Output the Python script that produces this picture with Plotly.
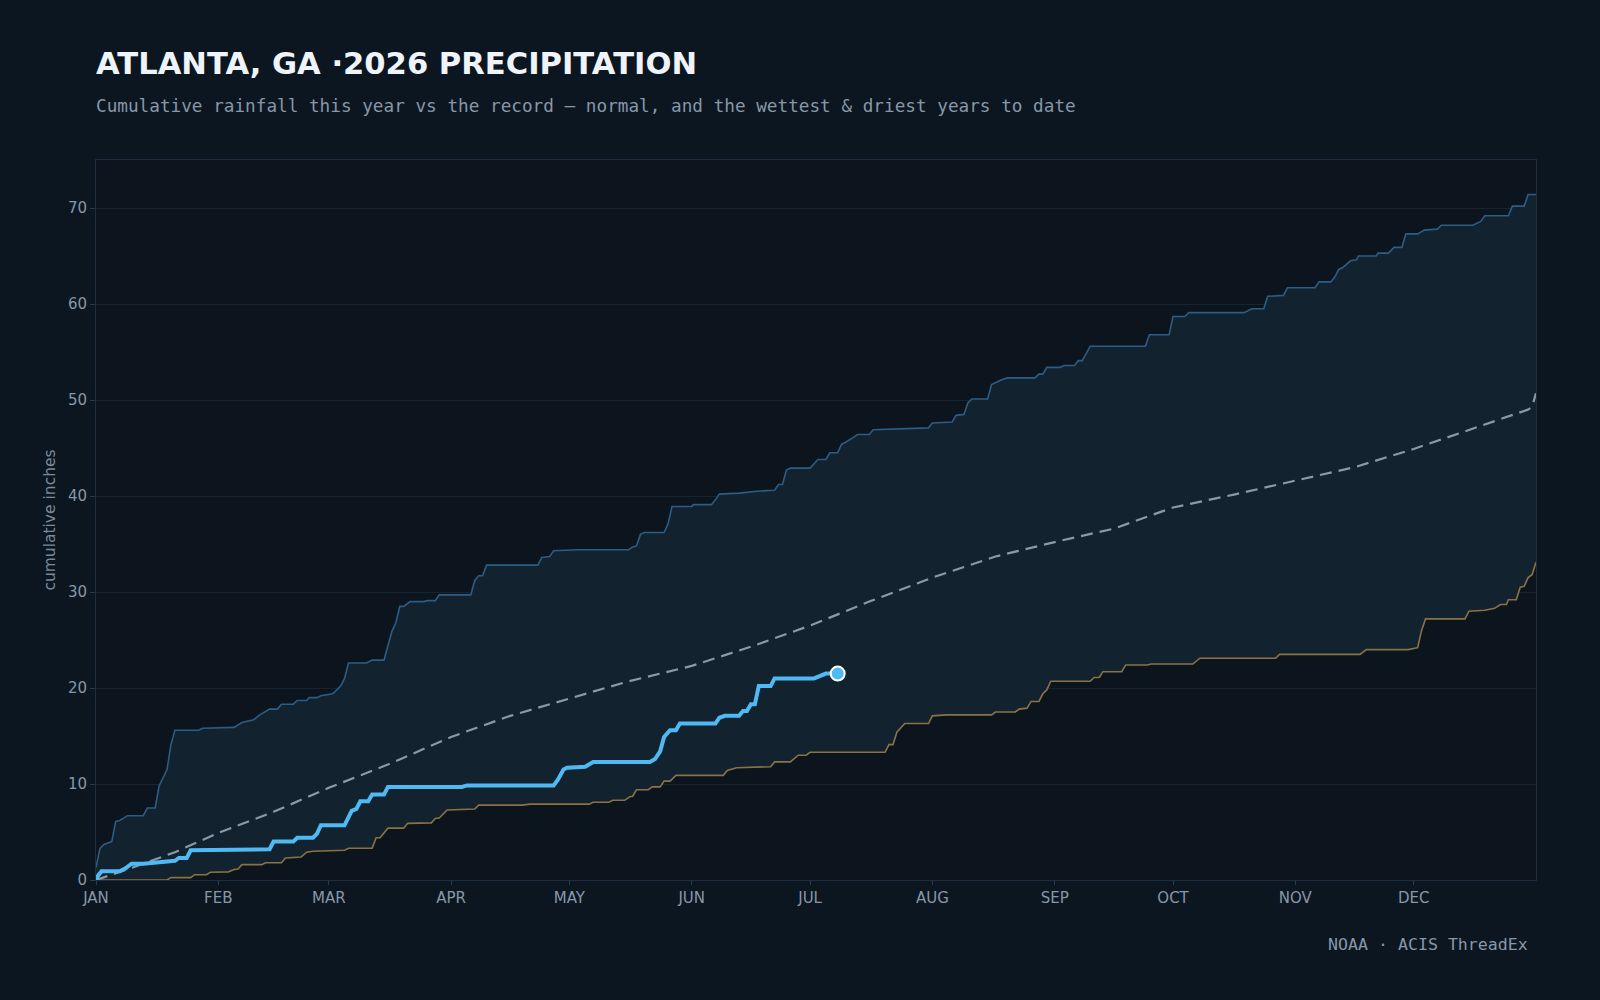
import plotly.graph_objects as go

# ---- data (day of year, cumulative inches) ----
month_ticks = [0, 31, 59, 90, 120, 151, 181, 212, 243, 273, 304, 334]
month_labels = ["JAN", "FEB", "MAR", "APR", "MAY", "JUN", "JUL", "AUG", "SEP", "OCT", "NOV", "DEC"]

wet_day = [0, 1, 2, 4, 5, 6, 8, 12, 13, 15, 16, 18, 19, 20, 26, 27, 35, 37, 40, 41.5, 44, 46, 47, 50, 51,
           53.4, 54, 56, 57, 60, 62, 63, 64, 68.6, 70, 73, 75, 76, 77, 78, 79.6, 83, 84, 86, 87, 95, 96, 97,
           98, 99, 112, 113, 115, 116, 122, 135, 136, 137, 138, 139, 144, 145, 146, 151, 151.4, 156, 157,
           158, 163, 167.5, 172, 173, 174, 175, 176, 181, 183, 185, 186, 188, 189, 190, 192, 193, 196, 197,
           211, 212, 217, 218, 220, 221, 222, 226, 227, 228, 229.6, 231, 238, 239, 240, 241, 244.4, 245.3,
           248, 249, 250, 252, 266, 267, 272, 273, 276, 277, 291, 293, 296, 297, 301, 302, 309, 310, 313,
           314, 315, 316, 318, 319.5, 320, 324.5, 325, 327.6, 329, 331, 332, 335, 336.7, 340, 341, 349,
           351, 352, 358, 359, 362, 363, 365]
wet_in = [1.3, 3.3, 3.7, 4.0, 6.1, 6.2, 6.7, 6.7, 7.5, 7.5, 9.8, 11.5, 14.1, 15.6, 15.6, 15.8, 15.9, 16.4,
          16.7, 17.2, 17.8, 17.8, 18.3, 18.3, 18.7, 18.7, 19.0, 19.0, 19.2, 19.4, 20.2, 21.0, 22.6, 22.6,
          22.9, 22.9, 25.9, 26.8, 28.5, 28.5, 29.0, 29.0, 29.1, 29.1, 29.7, 29.7, 31.2, 31.7, 31.7, 32.8,
          32.8, 33.6, 33.7, 34.3, 34.4, 34.4, 34.7, 34.8, 36.0, 36.2, 36.2, 37.1, 38.9, 38.9, 39.1, 39.1,
          39.6, 40.2, 40.3, 40.5, 40.6, 41.2, 41.2, 42.7, 42.9, 42.9, 43.8, 43.8, 44.5, 44.5, 45.4, 45.6,
          46.1, 46.4, 46.4, 46.9, 47.1, 47.6, 47.7, 48.4, 48.5, 49.7, 50.1, 50.1, 51.6, 51.8, 52.1, 52.3,
          52.3, 52.7, 52.7, 53.4, 53.4, 53.6, 53.6, 54.1, 54.1, 55.6, 55.6, 56.8, 56.8, 58.7, 58.7, 59.1,
          59.1, 59.5, 59.5, 60.8, 60.9, 61.7, 61.7, 62.3, 62.3, 62.8, 63.6, 63.8, 64.5, 64.6, 65.0, 65.0,
          65.3, 65.3, 65.9, 65.9, 67.3, 67.3, 67.7, 67.8, 68.2, 68.2, 68.6, 69.2, 69.2, 70.2, 70.2, 71.4,
          71.4]

dry_day = [0, 18, 19, 24, 25, 28, 29, 33.6, 35, 36, 37, 42, 43, 47, 48, 52, 53.4, 55, 63, 64, 70, 71, 72,
           74, 78, 79, 85, 86, 87, 89, 96, 97, 108, 110, 125, 126, 130, 131, 134, 135.4, 136, 137, 140, 141,
           143, 144, 145.5, 147, 159, 160, 162.4, 171, 172, 176, 178, 180, 181, 200, 201, 202, 203, 205, 211,
           212, 215.6, 227, 228, 233, 234, 236, 237, 239, 240, 241, 242, 252, 253, 254.3, 255.2, 260, 261,
           266.5, 267.4, 278, 279.8, 299, 300, 320.4, 322, 332.6, 335, 336, 337, 347, 348, 352, 354.5, 356,
           357.5, 358, 360, 361, 362, 363, 364, 365]
dry_in = [0.0, 0.0, 0.25, 0.25, 0.55, 0.55, 0.8, 0.85, 1.1, 1.15, 1.6, 1.6, 1.8, 1.8, 2.3, 2.4, 2.9, 3.0,
          3.1, 3.3, 3.3, 4.4, 4.4, 5.4, 5.4, 5.9, 5.95, 6.4, 6.45, 7.3, 7.4, 7.8, 7.8, 7.9, 7.9, 8.1, 8.1,
          8.3, 8.3, 8.7, 8.7, 9.4, 9.4, 9.7, 9.7, 10.3, 10.3, 10.9, 10.9, 11.4, 11.7, 11.8, 12.3, 12.3, 13.0,
          13.0, 13.3, 13.3, 14.1, 14.1, 15.4, 16.3, 16.3, 17.1, 17.2, 17.2, 17.5, 17.5, 17.8, 17.9, 18.6,
          18.6, 19.4, 19.8, 20.7, 20.7, 21.1, 21.1, 21.7, 21.7, 22.4, 22.4, 22.5, 22.5, 23.1, 23.1, 23.5,
          23.5, 24.0, 24.0, 24.2, 26.0, 27.2, 27.2, 28.0, 28.1, 28.3, 28.7, 28.7, 29.2, 29.2, 30.5, 30.6,
          31.5, 31.8, 33.1]

norm_day = [0, 10, 20, 31, 45, 59, 75, 90, 105, 120, 135, 151, 166, 181, 196, 212, 228, 243, 258, 273, 289,
            304, 319, 334, 349, 360, 363, 364, 365]
norm_in = [0.0, 1.4, 2.9, 4.9, 7.1, 9.6, 12.2, 14.9, 17.1, 18.9, 20.7, 22.3, 24.3, 26.5, 29.0, 31.5, 33.7,
           35.2, 36.6, 38.8, 40.2, 41.6, 43.0, 44.9, 47.0, 48.5, 49.0, 49.3, 50.7]

cur_day = [0, 0.6, 1.4, 6, 7.4, 9, 12, 15.4, 20, 21, 23, 24, 43.3, 44, 45, 50, 51, 55, 56, 57, 63, 64, 64.8,
           66, 67, 69, 70, 73, 74, 92.7, 94, 116, 117, 118.5, 119.4, 124, 125, 126, 140.4, 141.7, 143, 144,
           145.5, 147, 148, 157, 158, 159.4, 163, 164, 165, 166, 167, 168, 171, 172, 182, 183.5, 185, 188]
cur_in = [0.0, 0.5, 0.9, 0.9, 1.2, 1.7, 1.7, 1.8, 2.0, 2.3, 2.3, 3.1, 3.2, 3.2, 4.0, 4.0, 4.4, 4.4, 4.8, 5.7,
          5.7, 6.6, 7.2, 7.4, 8.2, 8.2, 8.9, 8.9, 9.7, 9.7, 9.85, 9.85, 10.4, 11.5, 11.7, 11.8, 12.0, 12.3,
          12.3, 12.6, 13.4, 14.9, 15.6, 15.6, 16.3, 16.3, 16.9, 17.1, 17.1, 17.6, 17.6, 18.3, 18.3, 20.2,
          20.2, 21.0, 21.0, 21.2, 21.5, 21.5]

# ---- styling ----
BG = "#0c1620"
PLOT_BG = "#0c151e"
BAND = "#12222f"
GRID = "#152431"
FRAME = "#1c2e3f"
TXT = "#8797a8"

fig = go.Figure()

fig.add_trace(go.Scatter(x=dry_day, y=dry_in, mode="lines", name="driest",
                         line=dict(color="#8a7245", width=1.6), hoverinfo="skip"))
fig.add_trace(go.Scatter(x=wet_day, y=wet_in, mode="lines", name="wettest",
                         line=dict(color="#2b5d86", width=1.6), fill="tonexty", fillcolor=BAND,
                         hoverinfo="skip"))
fig.add_trace(go.Scatter(x=norm_day, y=norm_in, mode="lines", name="normal",
                         line=dict(color="#8a99a8", width=2.2, dash="12px,7px"), hoverinfo="skip"))
fig.add_trace(go.Scatter(x=cur_day, y=cur_in, mode="lines", name="2026",
                         line=dict(color="#4fb9f3", width=4), hoverinfo="skip"))
fig.add_trace(go.Scatter(x=[cur_day[-1]], y=[cur_in[-1]], mode="markers", name="today",
                         marker=dict(color="#4fb9f3", size=14, line=dict(color="#ffffff", width=2)),
                         hoverinfo="skip"))

fig.update_layout(
    width=1600, height=1000,
    paper_bgcolor=BG, plot_bgcolor=PLOT_BG,
    margin=dict(l=96, r=64, t=160, b=120),
    showlegend=False,
    title=dict(text="ATLANTA, GA ·2026 PRECIPITATION", x=96 / 1600, xanchor="left",
               y=1 - 63 / 1000, yanchor="middle",
               font=dict(family="DejaVu Sans", size=30.6, color="#eef4fa", weight="bold")),
    annotations=[
        dict(text="Cumulative rainfall this year vs the record — normal, and the wettest & driest years to date",
             xref="paper", yref="paper", x=0, y=(880 - 106) / 720, xanchor="left", yanchor="middle",
             xshift=-2, showarrow=False, font=dict(family="DejaVu Sans Mono", size=17.7, color=TXT)),
        dict(text="NOAA · ACIS ThreadEx", xref="paper", yref="paper", x=(1528 - 96) / 1440,
             y=(880 - 945) / 720, xanchor="right", yanchor="middle", showarrow=False, xshift=2,
             font=dict(family="DejaVu Sans Mono", size=16.6, color=TXT)),
    ],
)

fig.update_xaxes(range=[0, 365], tickmode="array", tickvals=month_ticks, ticktext=month_labels,
                 showgrid=False, zeroline=False, showline=True, linecolor=FRAME, linewidth=1, mirror=True,
                 ticks="outside", ticklen=4, tickcolor="#2a3b4c",
                 tickfont=dict(family="DejaVu Sans", size=15, color=TXT))
fig.update_yaxes(range=[0, 75], tickmode="array", tickvals=[0, 10, 20, 30, 40, 50, 60, 70],
                 showgrid=True, gridcolor=GRID, gridwidth=1, zeroline=False,
                 showline=True, linecolor=FRAME, linewidth=1, mirror=True,
                 ticks="outside", ticklen=5, tickcolor="#2a3b4c",
                 tickfont=dict(family="DejaVu Sans", size=15, color=TXT),
                 title=dict(text="cumulative inches", standoff=8,
                            font=dict(family="DejaVu Sans", size=15.5, color="#7a8a9a")))

fig.write_html("out.html")
